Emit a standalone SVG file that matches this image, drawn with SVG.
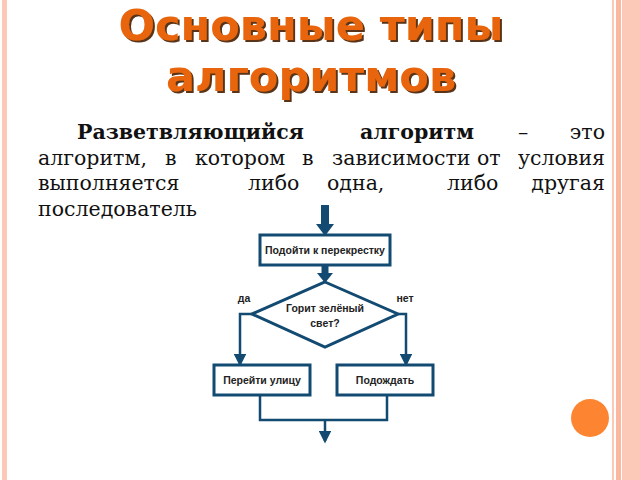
<svg xmlns="http://www.w3.org/2000/svg" width="640" height="480" viewBox="0 0 640 480">
<defs>
<style>
.body{font-family:"DejaVu Serif",serif;font-size:20.5px;fill:#111}
.b{font-weight:bold}
.fc{font-family:"Liberation Sans",Arial,sans-serif;font-weight:bold;font-size:10.5px;fill:#222;text-anchor:middle}
.box{fill:#fff;stroke:#124a72;stroke-width:3}
.ln{fill:none;stroke:#124a72;stroke-width:2.5}
.title{font-family:"DejaVu Sans",sans-serif;font-weight:bold;font-size:43px;fill:#e8650a;text-anchor:middle;filter:url(#sh)}
</style>
<filter id="sh" x="-10%" y="-30%" width="120%" height="160%"><feDropShadow dx="2" dy="2" stdDeviation="0.6" flood-color="#4a1a00" flood-opacity="0.9"/></filter>
<marker id="ah" viewBox="0 0 10 10" refX="8" refY="5" markerWidth="5" markerHeight="5" orient="auto"><path d="M0,0 L10,5 L0,10 z" fill="#124a72"/></marker>
</defs>
<rect width="640" height="480" fill="#fff"/>
<rect x="2" y="0" width="5" height="480" fill="#fcc9b8"/>
<rect x="612" y="0" width="2" height="480" fill="#fcc9b8"/>
<rect x="616" y="0" width="5" height="480" fill="#fbb79f"/>
<rect x="622" y="0" width="18" height="480" fill="#fcc9b8"/>
<circle cx="590" cy="418" r="19" fill="#fd8532"/>
<g>
<text class="title" x="311" y="40">Основные типы</text>
<text class="title" x="311" y="91">алгоритмов</text>
</g>
<g>
<text class="body b" x="77" y="139">Разветвляющийся</text>
<text class="body b" x="474" y="139" text-anchor="end">алгоритм</text>
<text class="body" x="523" y="139" text-anchor="middle">–</text>
<text class="body" x="605" y="139" text-anchor="end">это</text>
<text class="body" x="38" y="165">алгоритм,</text>
<text class="body" x="165" y="165">в</text>
<text class="body" x="195" y="165">котором</text>
<text class="body" x="302" y="165">в</text>
<text class="body" x="332" y="165">зависимости</text>
<text class="body" x="477" y="165">от</text>
<text class="body" x="605" y="165" text-anchor="end">условия</text>
<text class="body" x="38" y="190">выполняется</text>
<text class="body" x="248" y="190">либо</text>
<text class="body" x="327" y="190">одна,</text>
<text class="body" x="447" y="190">либо</text>
<text class="body" x="605" y="190" text-anchor="end">другая</text>
<text class="body" x="38" y="216">последователь</text>
</g>
<g id="connectors">
<path d="M325,205 V225" stroke="#124a72" stroke-width="8" fill="none"/>
<path d="M316,224 L334,224 L325,236 z" fill="#124a72"/>
<path d="M325,265 V274" stroke="#124a72" stroke-width="7" fill="none"/>
<path d="M317,273 L333,273 L325,283 z" fill="#124a72"/>
<path class="ln" d="M252,314 H240 V364" marker-end="url(#ah)"/>
<path class="ln" d="M398,314 H406 V364" marker-end="url(#ah)"/>
<path class="ln" d="M260,396 V420 H387 V396"/>
<path class="ln" d="M325,420 V441" marker-end="url(#ah)"/>
</g>
<g id="n1"><rect class="box" x="260" y="235" width="130" height="30"/><text class="fc" x="325" y="254">Подойти к перекрестку</text></g>
<g id="n2"><path class="box" d="M325,282 L398,314 L325,347 L252,314 z"/><text class="fc" x="325" y="312">Горит зелёный</text><text class="fc" x="325" y="327">свет?</text></g>
<g id="n3"><rect class="box" x="214" y="365" width="96" height="30"/><text class="fc" x="262" y="384">Перейти улицу</text></g>
<g id="n4"><rect class="box" x="337" y="365" width="96" height="30"/><text class="fc" x="385" y="384">Подождать</text></g>
<text class="fc" x="244" y="302">да</text>
<text class="fc" x="405" y="302">нет</text>
</svg>
